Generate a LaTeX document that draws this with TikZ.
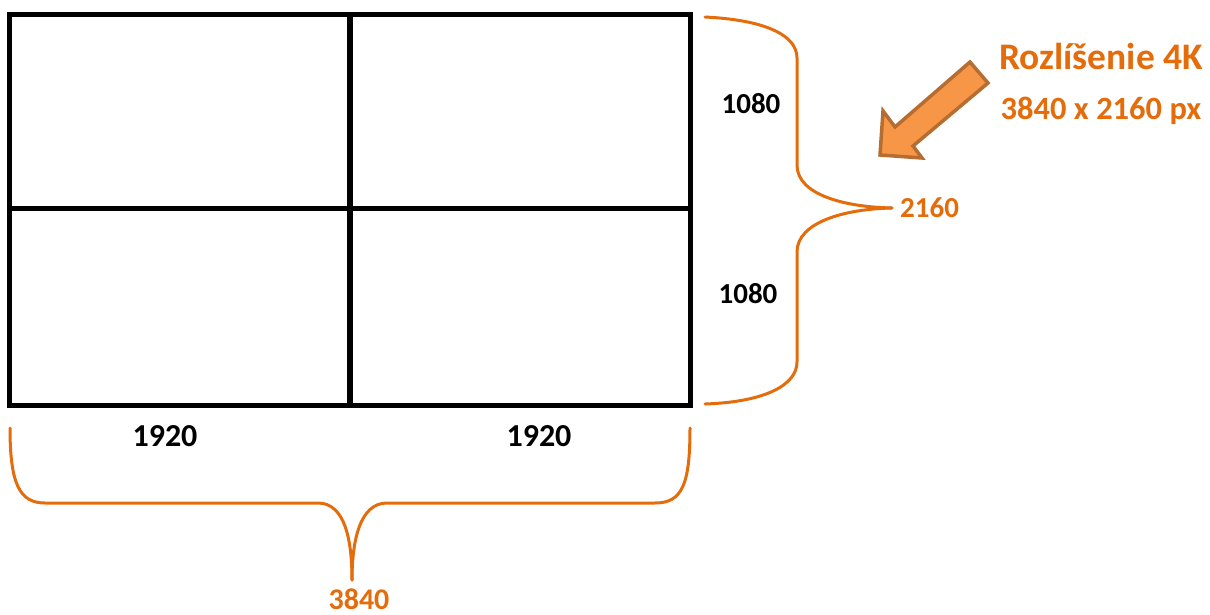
\documentclass[tikz,border=0pt]{standalone}
\usepackage{fontspec}
\setmainfont{Carlito}
\usepackage{tikz}
\usetikzlibrary{positioning}

\definecolor{bracecol}{RGB}{228,108,10}
\definecolor{arrowfill}{RGB}{247,150,70}
\definecolor{arrowline}{RGB}{182,109,49}

\tikzset{
  grid/.style={line width=5.5pt, line cap=rect, line join=miter},
  brace/.style={line width=3pt, bracecol, line cap=round, line join=round},
  dim/.style={font=\bfseries\fontsize{29}{33}\selectfont, inner sep=0pt},
  orangetxt/.style={dim, text=bracecol},
}

\begin{document}
\begin{tikzpicture}[x=1pt, y=-1pt, line cap=round, line join=round]
        \useasboundingbox (0,0) rectangle (1210,615);

        % 2x2 grid of full HD screens
        \draw[grid] (9.5,14.5) rectangle (690.5,405.5);
        \draw[grid] (350,14.5) -- (350,405.5);
        \draw[grid] (9.5,208.5) -- (690.5,208.5);

        % brace on the right (height)
        \coordinate (htip) at (892,208);
        \draw[brace] (705,17) .. controls (765,20) and (797,35) .. (797,58)
              -- (797,165) .. controls (797,195) and (845,207) .. (htip);
        \draw[brace] (htip) .. controls (845,209) and (797,222) .. (797,252)
              -- (797,362) .. controls (797,385) and (765,402) .. (705,404);
        \node[orangetxt, right=8pt of htip] (hsum) {2160};

        % heights of the two rows
        \node[dim] (htop) at (751,104) {1080};
        \node[dim] (hbot) at (748,294) {1080};

        % brace at the bottom (width)
        \coordinate (wtip) at (352,580);
        \draw[brace] (10,428) .. controls (10,485) and (20,503) .. (45,503)
              -- (318,503) .. controls (345,503) and (352,540) .. (wtip);
        \draw[brace] (wtip) .. controls (352,540) and (360,503) .. (387,503)
              -- (655,503) .. controls (682,503) and (690,485) .. (690,428);
        \node[orangetxt, font=\bfseries\fontsize{30}{34}\selectfont] (wsum) at (359,599) {3840};

        % widths of the two columns
        \node[dim, font=\bfseries\fontsize{32}{36}\selectfont] (wleft)  at (165,436) {1920};
        \node[dim, font=\bfseries\fontsize{32}{36}\selectfont] (wright) at (539,436) {1920};

        % title of the resolution
        \node[orangetxt, font=\bfseries\fontsize{37.5}{42}\selectfont] (title) at (1101,56) {Rozlíšenie 4K};
        \node[orangetxt, font=\bfseries\fontsize{32.5}{36}\selectfont] (res) at (1101,111) {3840 x 2160 px};

        % block arrow pointing at the grid
        \filldraw[fill=arrowfill, draw=arrowline, line width=3.5pt, line join=miter]
              (880,155) -- (883,111) -- (895,127) -- (970,62) -- (988,83)
              -- (913,146) -- (922,158) -- cycle;
    \end{tikzpicture}
\end{document}
